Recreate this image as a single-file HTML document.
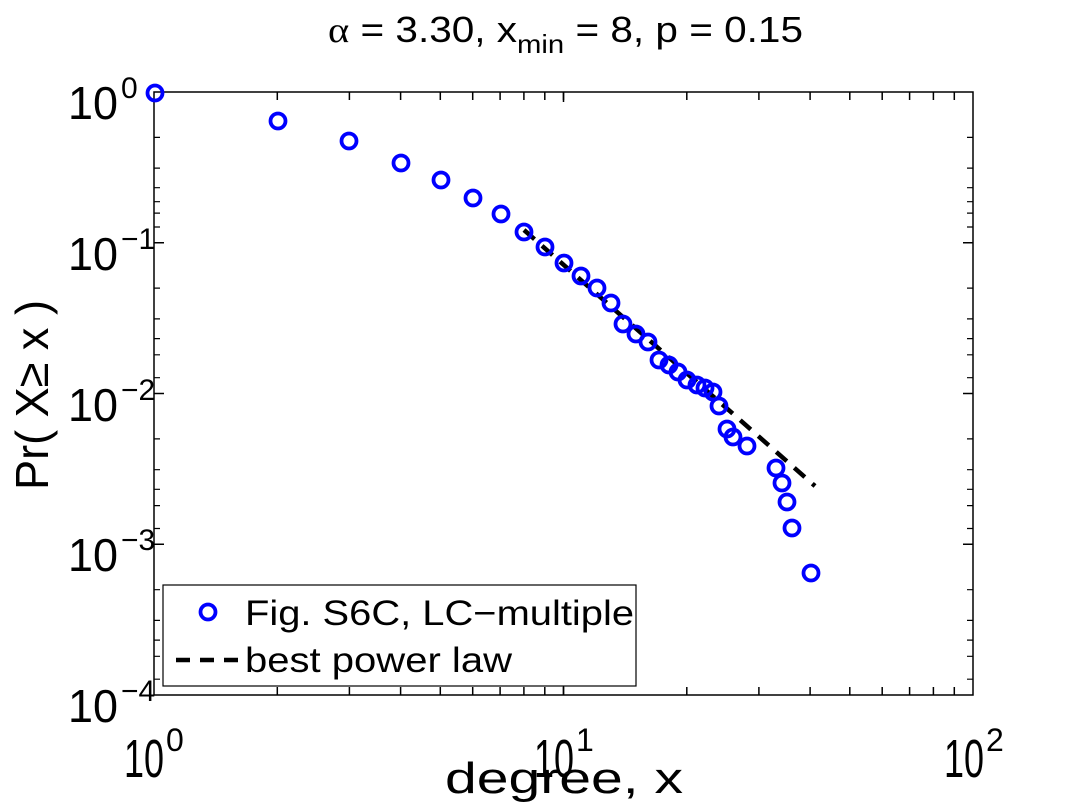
<!DOCTYPE html>
<html><head><meta charset="utf-8"><style>body{margin:0;background:#fff}svg{display:block}</style></head><body>
<svg width="1076" height="808" viewBox="0 0 1076 808" xmlns="http://www.w3.org/2000/svg" font-family="Liberation Sans, Arial, sans-serif">
<rect width="1076" height="808" fill="#fff"/>
<g stroke="#000" stroke-width="1.5" fill="none">
<rect x="154" y="92" width="819" height="603"/>
<path d="M277.3 695v-8M349.4 695v-8M400.6 695v-8M440.3 695v-8M472.7 695v-8M500.1 695v-8M523.9 695v-8M544.8 695v-8M563.5 695v-8M686.8 695v-8M758.9 695v-8M810.1 695v-8M849.8 695v-8M882.2 695v-8M909.6 695v-8M933.4 695v-8M954.3 695v-8
M277.3 92v8M349.4 92v8M400.6 92v8M440.3 92v8M472.7 92v8M500.1 92v8M523.9 92v8M544.8 92v8M563.5 92v8M686.8 92v8M758.9 92v8M810.1 92v8M849.8 92v8M882.2 92v8M909.6 92v8M933.4 92v8M954.3 92v8"/>
<path d="M154 242.75h10M154 393.5h10M154 544.25h10M973 242.75h-10M973 393.5h-10M973 544.25h-10M563.5 695v-10M563.5 92v10"/>
</g>
<g stroke="#000" stroke-width="1.2">
<path d="
M154 137.4h6M154 168.1h6M154 187.7h6M154 201.7h6M154 213.1h6M154 227.0h6
M154 288.1h6M154 318.9h6M154 338.6h6M154 354.8h6M154 377.7h6
M154 438.9h6M154 469.7h6M154 489.3h6M154 505.6h6M154 528.5h6
M154 589.7h6M154 620.4h6M154 640.1h6M154 656.3h6M154 679.2h6
M973 137.4h-6M973 168.1h-6M973 187.7h-6M973 201.7h-6M973 213.1h-6M973 227.0h-6
M973 288.1h-6M973 318.9h-6M973 338.6h-6M973 354.8h-6M973 377.7h-6
M973 438.9h-6M973 469.7h-6M973 489.3h-6M973 505.6h-6M973 528.5h-6
M973 589.7h-6M973 620.4h-6M973 640.1h-6M973 656.3h-6M973 679.2h-6"/>
</g>
<path d="M524 230 L815 486" stroke="#000" stroke-width="4.5" stroke-dasharray="14,10" fill="none"/>
<g fill="none" stroke="#0000ff" stroke-width="3.8">
<circle cx="155" cy="93" r="7.5"/><circle cx="278" cy="121" r="7.5"/><circle cx="349" cy="141" r="7.5"/><circle cx="401" cy="163" r="7.5"/><circle cx="441" cy="180" r="7.5"/><circle cx="473" cy="198" r="7.5"/><circle cx="501" cy="214" r="7.5"/><circle cx="524" cy="232" r="7.5"/><circle cx="545" cy="247" r="7.5"/><circle cx="564" cy="263" r="7.5"/><circle cx="581" cy="276" r="7.5"/>
<circle cx="597" cy="288" r="7.5"/><circle cx="611" cy="303" r="7.5"/><circle cx="623" cy="324" r="7.5"/><circle cx="636" cy="334" r="7.5"/><circle cx="648" cy="342" r="7.5"/><circle cx="659" cy="360" r="7.5"/><circle cx="669" cy="365" r="7.5"/><circle cx="678" cy="372" r="7.5"/><circle cx="687" cy="380" r="7.5"/><circle cx="697" cy="385" r="7.5"/><circle cx="705" cy="388" r="7.5"/><circle cx="713" cy="392" r="7.5"/><circle cx="719" cy="406" r="7.5"/><circle cx="727" cy="429" r="7.5"/><circle cx="733" cy="437" r="7.5"/><circle cx="747" cy="446" r="7.5"/><circle cx="776" cy="468" r="7.5"/><circle cx="782" cy="483" r="7.5"/><circle cx="787" cy="502" r="7.5"/><circle cx="792" cy="528" r="7.5"/><circle cx="811" cy="573" r="7.5"/>
</g>
<rect x="163" y="585" width="473" height="101" fill="#fff" stroke="#000" stroke-width="1.2"/>
<circle cx="208" cy="612" r="7.5" fill="none" stroke="#0000ff" stroke-width="3.8"/>
<text x="245" y="625" font-size="35" textLength="389" lengthAdjust="spacingAndGlyphs">Fig. S6C, LC−multiple</text>
<path d="M176 660H240" stroke="#000" stroke-width="4.5" stroke-dasharray="14,10"/>
<text x="245" y="672" font-size="35" textLength="267" lengthAdjust="spacingAndGlyphs">best power law</text>
<g font-size="46" fill="#000">
<text x="68" y="119" textLength="50" lengthAdjust="spacingAndGlyphs">10</text><text x="121" y="98" font-size="30">0</text>
<text x="68" y="270" textLength="50" lengthAdjust="spacingAndGlyphs">10</text><text x="121" y="249" font-size="30">−1</text>
<text x="68" y="421" textLength="50" lengthAdjust="spacingAndGlyphs">10</text><text x="121" y="400" font-size="30">−2</text>
<text x="68" y="571" textLength="50" lengthAdjust="spacingAndGlyphs">10</text><text x="121" y="550" font-size="30">−3</text>
<text x="68" y="722" textLength="50" lengthAdjust="spacingAndGlyphs">10</text><text x="121" y="701" font-size="30">−4</text>
<g font-size="54">
<text x="124" y="777" textLength="40" lengthAdjust="spacingAndGlyphs">10</text><text x="166" y="751" font-size="32">0</text>
<text x="534" y="777" textLength="40" lengthAdjust="spacingAndGlyphs">10</text><text x="576" y="751" font-size="32">1</text>
<text x="944" y="777" textLength="40" lengthAdjust="spacingAndGlyphs">10</text><text x="986" y="751" font-size="32">2</text>
</g>
<text x="445" y="793" font-size="44" textLength="238" lengthAdjust="spacingAndGlyphs">degree, x</text>
<text transform="translate(48,490) rotate(-90)" textLength="190" lengthAdjust="spacingAndGlyphs">Pr( X≥ x )</text>
</g>
<text x="328" y="42" font-size="36" textLength="475" lengthAdjust="spacingAndGlyphs"><tspan font-family="Liberation Serif, serif">α</tspan> = 3.30, x<tspan font-size="26" dy="11">min</tspan><tspan dy="-11"> = 8, p = 0.15</tspan></text>
</svg>
</body></html>
